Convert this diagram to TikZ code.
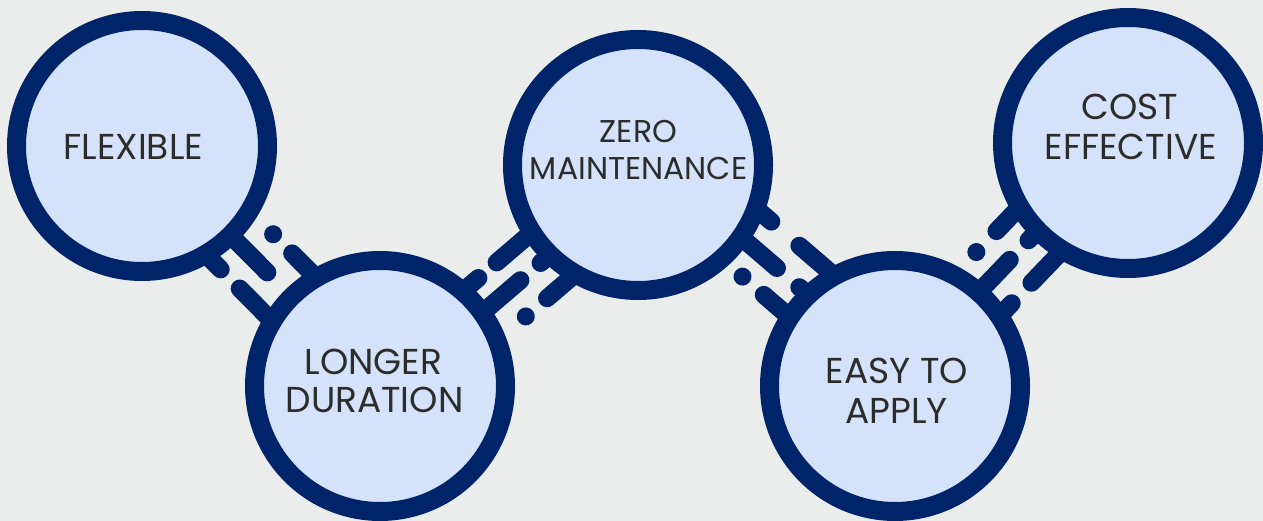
\documentclass[tikz,border=0pt]{standalone}
\usepackage{fontspec}
\setmainfont{Poppins}
\definecolor{bgc}{HTML}{EBEDEC}
\definecolor{fillc}{HTML}{D5E3FA}
\definecolor{ringc}{HTML}{00246A}
\definecolor{txtc}{HTML}{2C2C2C}
\tikzset{
  ringcirc/.style={circle, draw=ringc, line width=19pt, fill=fillc, minimum size=251pt, inner sep=0pt},
  bar/.style={draw=ringc, line width=18pt, line cap=round},
  label/.style={anchor=base, inner sep=0pt, text=txtc, font=\fontsize{36pt}{40pt}\selectfont},
  labelsmall/.style={anchor=base, inner sep=0pt, text=txtc, font=\fontsize{31.5pt}{38pt}\selectfont},
}
\newcommand{\kdot}[2]{\fill[ringc] (#1,#2) circle[radius=9pt];}
\begin{document}
\begin{tikzpicture}[x=1pt,y=-1pt]
\fill[bgc] (0,0) rectangle (1263,521);
\useasboundingbox (0,0) rectangle (1263,521);
\coordinate (p1) at (142,146);
\coordinate (p2) at (380,386);
\coordinate (p3) at (638,165);
\coordinate (p4) at (895,386);
\coordinate (p5) at (1128,143);
% connector 1
\begin{scope}[shift={(p1)}, rotate=-45.24]
  \kdot{155}{-31}
  \draw[bar] (182,-31) -- (248,-31);
  \draw[bar] (90,0) -- (178,0);
  \draw[bar] (90,31) -- (143,31);
  \draw[bar] (170,31) -- (248,31);
\end{scope}
% connector 2
\begin{scope}[shift={(p2)}, rotate=40.58]
  \kdot{156}{42}
  \draw[bar] (184,42) -- (250,42);
  \draw[bar] (90,11) -- (175.5,11);
  \draw[bar] (202,11) -- (250,11);
  \draw[bar] (90,-18) -- (145,-18);
  \draw[bar] (169,-18) -- (250,-18);
\end{scope}
% connector 3
\begin{scope}[shift={(p3)}, rotate=-40.69]
  \kdot{152}{16.5}
  \draw[bar] (180,16.5) -- (249,16.5);
  \draw[bar] (90,-12.5) -- (172.5,-12.5);
  \draw[bar] (202,-12.5) -- (249,-12.5);
  \draw[bar] (90,-44) -- (138,-44);
  \draw[bar] (175,-44) -- (249,-44);
\end{scope}
% connector 4
\begin{scope}[shift={(p4)}, rotate=46.2]
  \kdot{153}{-34}
  \draw[bar] (182,-34) -- (247,-34);
  \draw[bar] (90,-4.5) -- (170.5,-4.5);
  \draw[bar] (197.6,-4.5) -- (247,-4.5);
  \draw[bar] (90,27) -- (140.5,27);
  \draw[bar] (169,27) -- (247,27);
\end{scope}
% circles
\node[ringcirc] (c1) at (p1) {};
\node[ringcirc] (c2) at (p2) {};
\node[ringcirc] (c3) at (p3) {};
\node[ringcirc] (c4) at (p4) {};
\node[ringcirc] (c5) at (p5) {};
% texts
\node[label] (t1) at (133.3,159.8) {FLEXIBLE};
\node[label] (t2a) at (373.5,374.8) {LONGER};
\node[label] (t2b) at (374.5,412.8) {DURATION};
\node[labelsmall] (t3a) at (638.4,142.3) {ZERO};
\node[labelsmall] (t3b) at (638.7,180) {MAINTENANCE};
\node[label] (t4a) at (896.7,383) {EASY TO};
\node[label] (t4b) at (896.7,423) {APPLY};
\node[label] (t5a) at (1130,119.8) {COST};
\node[label] (t5b) at (1130.8,159.8) {EFFECTIVE};
\end{tikzpicture}
\end{document}
